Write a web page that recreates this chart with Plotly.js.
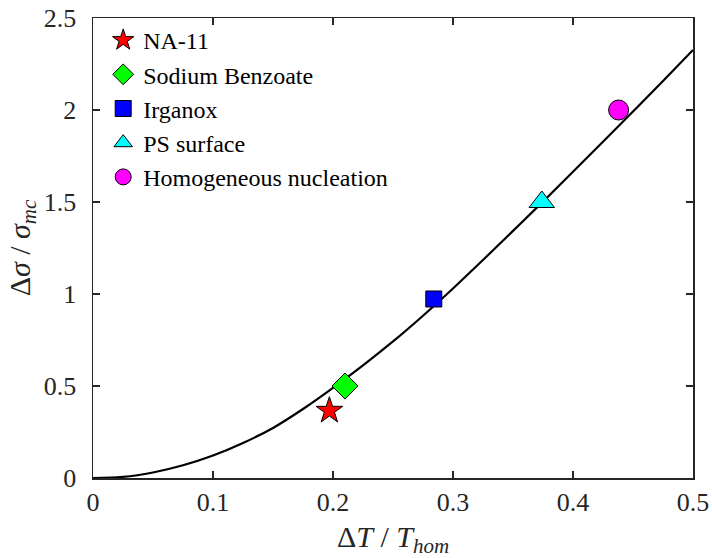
<!DOCTYPE html>
<html>
<head>
<meta charset="utf-8">
<script src="https://cdn.plot.ly/plotly-3.0.1.min.js"></script>
<style>html,body{margin:0;padding:0;background:#fff;}#plot{width:712px;height:558px;}</style>
</head>
<body>
<div id="plot"></div>
<script>
// Fitted curve
const curveX = [0, 0.025, 0.05, 0.075, 0.1, 0.125, 0.15, 0.175, 0.2, 0.225, 0.25, 0.275, 0.3, 0.325, 0.35, 0.375, 0.4, 0.425, 0.45, 0.475, 0.5];
const curveY = [0, 0.006, 0.03, 0.069, 0.122, 0.19, 0.272, 0.375, 0.49, 0.612, 0.742, 0.882, 1.03, 1.185, 1.343, 1.502, 1.664, 1.827, 1.992, 2.158, 2.326];

// Data points
const names = ["NA-11", "Sodium Benzoate", "Irganox", "PS surface", "Homogeneous nucleation"];
const ptX = [0.197, 0.21, 0.284, 0.374, 0.438];
const ptY = [0.366, 0.5, 0.973, 1.5, 2.0];
const colors = ["#ff0000", "#00ff00", "#0000ff", "#00ffff", "#ff00ff"];
const symbols = ["star", "diamond", "square", "triangle-up", "circle"];
const sizes = [20, 20, 16, 22, 20];

const traces = [{
  x: curveX, y: curveY, mode: "lines", type: "scatter",
  line: {color: "#000", width: 2.2, shape: "spline", smoothing: 1},
  showlegend: false, hoverinfo: "skip"
}];
for (let i = 0; i < names.length; i++) {
  traces.push({
    x: [ptX[i]], y: [ptY[i]], mode: "markers", type: "scatter", name: names[i],
    marker: {color: colors[i], symbol: symbols[i], size: sizes[i], line: {color: "#000", width: 1}}
  });
}

const fontFam = "Liberation Serif, Times New Roman, serif";
const layout = {
  width: 712, height: 558,
  margin: {l: 93, r: 19, t: 18, b: 80},
  paper_bgcolor: "#fff", plot_bgcolor: "#fff",
  font: {family: fontFam, color: "#000", size: 26},
  showlegend: true,
  legend: {x: 0.017, y: 1.0, xanchor: "left", yanchor: "top", bgcolor: "rgba(0,0,0,0)",
           font: {family: fontFam, size: 24, color: "#000"}, itemwidth: 30},
  xaxis: {
    range: [0, 0.5], tickvals: [0, 0.1, 0.2, 0.3, 0.4, 0.5], ticktext: ["0", "0.1", "0.2", "0.3", "0.4", "0.5"],
    showgrid: false, zeroline: false, showline: true, linecolor: "#262626", linewidth: 1.5,
    mirror: "ticks", ticks: "inside", ticklen: 7, tickwidth: 1.5, tickcolor: "#262626",
    ticklabelstandoff: 0,
    tickfont: {family: fontFam, size: 26, color: "#262626"},
    title: {text: "Δ<i>T</i> / <i>T</i><sub><i>hom</i></sub>", font: {family: fontFam, size: 30, color: "#262626"}, standoff: 20}
  },
  yaxis: {
    range: [0, 2.5], tickvals: [0, 0.5, 1, 1.5, 2, 2.5], ticktext: ["0", "0.5", "1", "1.5", "2", "2.5"],
    showgrid: false, zeroline: false, showline: true, linecolor: "#262626", linewidth: 1.5,
    mirror: "ticks", ticks: "inside", ticklen: 7, tickwidth: 1.5, tickcolor: "#262626",
    ticklabelstandoff: 10,
    tickfont: {family: fontFam, size: 26, color: "#262626"},
    title: {text: "Δ<i>σ</i> / <i>σ</i><sub><i>mc</i></sub>", font: {family: fontFam, size: 30, color: "#262626"}, standoff: 4}
  }
};

Plotly.newPlot("plot", traces, layout, {staticPlot: true, displayModeBar: false});
</script>
</body>
</html>
